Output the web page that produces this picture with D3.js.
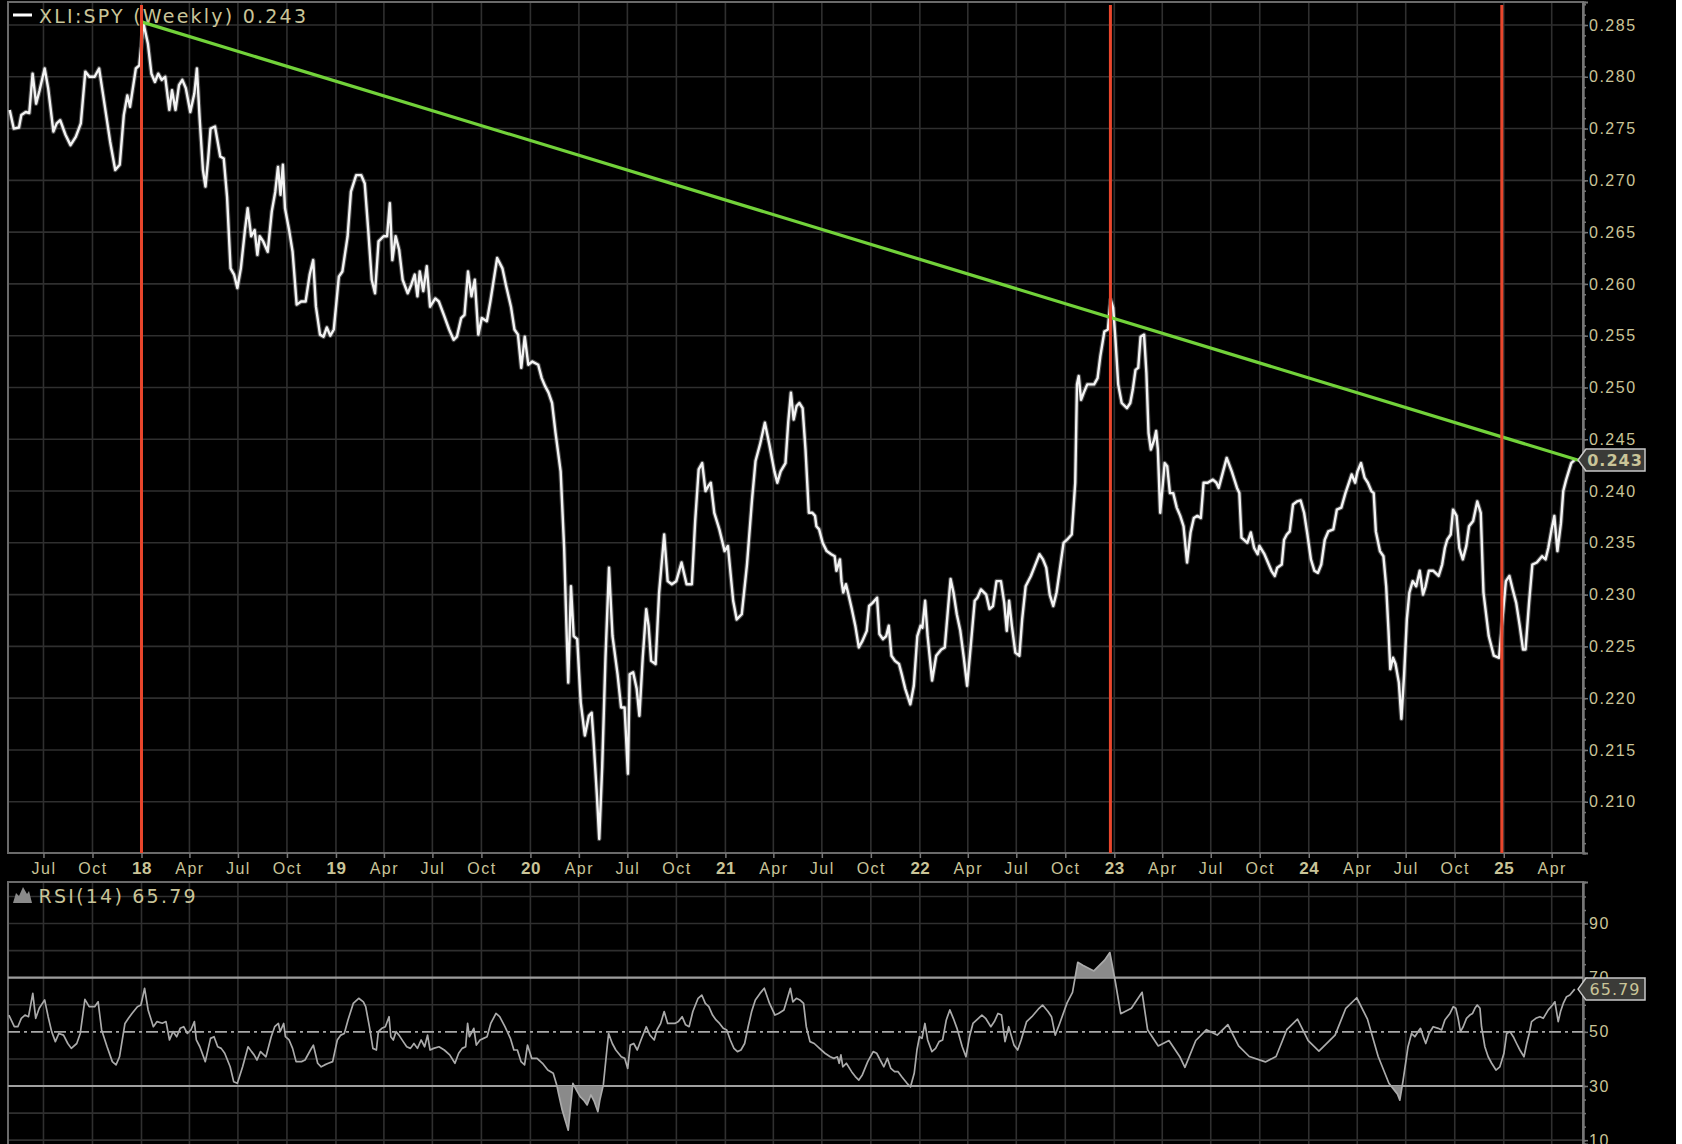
<!DOCTYPE html>
<html><head><meta charset="utf-8">
<script src="https://cdn.jsdelivr.net/npm/d3@7"></script>
<style>html,body{margin:0;padding:0;background:#000;overflow:hidden}</style>
</head><body><svg id="c" width="1682" height="1144"></svg>
<script>
// ---- data (time as decimal year) ----
const seriesName = "XLI:SPY (Weekly)";
const lastRatio = 0.243;
const lastRsi = 65.79;
const ratioSeries = [
[2017.322,0.2768],[2017.343,0.2750],[2017.370,0.2751],[2017.382,0.2763],[2017.405,0.2766],[2017.423,0.2765],[2017.440,0.2803],[2017.458,0.2774],[2017.476,0.2787],[2017.502,0.2808],[2017.520,0.2789],[2017.547,0.2747],[2017.564,0.2755],[2017.582,0.2758],[2017.609,0.2744],[2017.635,0.2734],[2017.662,0.2742],[2017.688,0.2755],[2017.711,0.2805],[2017.732,0.2800],[2017.759,0.2800],[2017.782,0.2808],[2017.803,0.2782],[2017.839,0.2737],[2017.865,0.2710],[2017.888,0.2715],[2017.909,0.2763],[2017.927,0.2782],[2017.941,0.2771],[2017.971,0.2808],[2017.989,0.2811],[2018.010,0.2852],[2018.033,0.2832],[2018.051,0.2803],[2018.069,0.2795],[2018.086,0.2803],[2018.104,0.2797],[2018.122,0.2800],[2018.143,0.2768],[2018.157,0.2787],[2018.175,0.2768],[2018.193,0.2792],[2018.210,0.2797],[2018.228,0.2789],[2018.251,0.2766],[2018.272,0.2784],[2018.285,0.2808],[2018.299,0.2760],[2018.316,0.2710],[2018.329,0.2694],[2018.343,0.2721],[2018.355,0.2750],[2018.378,0.2752],[2018.405,0.2723],[2018.423,0.2721],[2018.440,0.2684],[2018.458,0.2615],[2018.476,0.2609],[2018.493,0.2596],[2018.511,0.2615],[2018.532,0.2652],[2018.546,0.2673],[2018.564,0.2646],[2018.582,0.2652],[2018.596,0.2628],[2018.608,0.2646],[2018.626,0.2641],[2018.649,0.2631],[2018.670,0.2670],[2018.688,0.2689],[2018.702,0.2713],[2018.715,0.2686],[2018.727,0.2715],[2018.738,0.2673],[2018.759,0.2652],[2018.777,0.2631],[2018.798,0.2580],[2018.821,0.2583],[2018.844,0.2583],[2018.865,0.2609],[2018.883,0.2623],[2018.897,0.2578],[2018.918,0.2551],[2018.936,0.2549],[2018.953,0.2558],[2018.971,0.2550],[2018.989,0.2556],[2019.015,0.2607],[2019.033,0.2612],[2019.060,0.2646],[2019.077,0.2689],[2019.104,0.2705],[2019.130,0.2705],[2019.148,0.2697],[2019.166,0.2652],[2019.184,0.2604],[2019.201,0.2591],[2019.219,0.2641],[2019.245,0.2646],[2019.263,0.2646],[2019.277,0.2678],[2019.290,0.2623],[2019.307,0.2646],[2019.325,0.2633],[2019.343,0.2604],[2019.369,0.2591],[2019.387,0.2599],[2019.405,0.2609],[2019.419,0.2588],[2019.431,0.2612],[2019.449,0.2593],[2019.467,0.2617],[2019.484,0.2578],[2019.511,0.2586],[2019.529,0.2583],[2019.555,0.2570],[2019.582,0.2556],[2019.605,0.2546],[2019.622,0.2549],[2019.644,0.2567],[2019.661,0.2570],[2019.679,0.2612],[2019.697,0.2588],[2019.714,0.2604],[2019.732,0.2551],[2019.750,0.2567],[2019.776,0.2564],[2019.794,0.2583],[2019.829,0.2625],[2019.856,0.2615],[2019.874,0.2599],[2019.900,0.2578],[2019.918,0.2556],[2019.936,0.2551],[2019.953,0.2519],[2019.971,0.2549],[2019.989,0.2522],
[2020.010,0.2525],[2020.040,0.2522],[2020.058,0.2509],[2020.076,0.2501],[2020.093,0.2495],[2020.111,0.2485],[2020.129,0.2456],[2020.155,0.2419],[2020.173,0.2345],[2020.187,0.2255],[2020.194,0.2215],[2020.208,0.2308],[2020.222,0.2260],[2020.240,0.2257],[2020.258,0.2196],[2020.279,0.2164],[2020.300,0.2183],[2020.314,0.2186],[2020.323,0.2162],[2020.341,0.2106],[2020.353,0.2064],[2020.368,0.2133],[2020.385,0.2239],[2020.403,0.2326],[2020.421,0.2260],[2020.447,0.2223],[2020.465,0.2191],[2020.483,0.2191],[2020.500,0.2127],[2020.509,0.2223],[2020.527,0.2225],[2020.545,0.2209],[2020.559,0.2183],[2020.576,0.2239],[2020.594,0.2286],[2020.606,0.2270],[2020.619,0.2236],[2020.642,0.2233],[2020.660,0.2302],[2020.686,0.2358],[2020.704,0.2313],[2020.725,0.2310],[2020.748,0.2313],[2020.775,0.2331],[2020.801,0.2310],[2020.828,0.2310],[2020.845,0.2371],[2020.863,0.2421],[2020.881,0.2427],[2020.898,0.2400],[2020.913,0.2405],[2020.925,0.2408],[2020.943,0.2379],[2020.969,0.2363],[2020.996,0.2342],[2021.013,0.2347],[2021.040,0.2294],[2021.058,0.2276],[2021.084,0.2281],[2021.111,0.2329],[2021.137,0.2392],[2021.155,0.2429],[2021.178,0.2445],[2021.203,0.2466],[2021.226,0.2445],[2021.252,0.2419],[2021.267,0.2408],[2021.284,0.2419],[2021.309,0.2427],[2021.323,0.2466],[2021.337,0.2495],[2021.351,0.2469],[2021.366,0.2482],[2021.380,0.2485],[2021.397,0.2480],[2021.412,0.2440],[2021.429,0.2379],[2021.447,0.2379],[2021.461,0.2376],[2021.468,0.2366],[2021.482,0.2363],[2021.500,0.2350],[2021.521,0.2342],[2021.544,0.2339],[2021.562,0.2337],[2021.571,0.2323],[2021.589,0.2334],[2021.597,0.2313],[2021.606,0.2302],[2021.620,0.2310],[2021.633,0.2300],[2021.650,0.2286],[2021.668,0.2270],[2021.686,0.2249],[2021.704,0.2255],[2021.727,0.2265],[2021.739,0.2289],[2021.757,0.2292],[2021.780,0.2297],[2021.792,0.2262],[2021.810,0.2257],[2021.827,0.2260],[2021.840,0.2270],[2021.854,0.2241],[2021.872,0.2236],[2021.893,0.2233],[2021.907,0.2223],[2021.925,0.2209],[2021.951,0.2194],[2021.969,0.2212],[2021.987,0.2260],[2022.004,0.2270],[2022.013,0.2268],[2022.027,0.2294],[2022.040,0.2260],[2022.063,0.2217],[2022.084,0.2241],[2022.110,0.2247],[2022.128,0.2249],[2022.146,0.2289],[2022.158,0.2315],[2022.173,0.2302],[2022.190,0.2281],[2022.208,0.2265],[2022.226,0.2239],[2022.243,0.2212],[2022.261,0.2249],[2022.282,0.2294],[2022.296,0.2297],[2022.314,0.2305],[2022.341,0.2300],[2022.358,0.2286],[2022.376,0.2289],[2022.394,0.2313],[2022.417,0.2313],[2022.434,0.2292],[2022.447,0.2265],[2022.459,0.2294],[2022.473,0.2270],[2022.491,0.2244],[2022.512,0.2241],[2022.526,0.2276],[2022.544,0.2308],[2022.571,0.2318],[2022.588,0.2326],[2022.615,0.2339],[2022.633,0.2334],[2022.650,0.2326],[2022.668,0.2300],[2022.686,0.2289],[2022.703,0.2302],[2022.721,0.2326],[2022.739,0.2350],[2022.757,0.2353],
[2022.781,0.2358],[2022.799,0.2408],[2022.808,0.2503],[2022.817,0.2511],[2022.829,0.2488],[2022.843,0.2495],[2022.861,0.2503],[2022.896,0.2503],[2022.914,0.2509],[2022.928,0.2530],[2022.949,0.2554],[2022.967,0.2556],[2022.981,0.2585],[2022.994,0.2577],[2023.006,0.2546],[2023.020,0.2503],[2023.038,0.2485],[2023.065,0.2480],[2023.082,0.2485],[2023.095,0.2498],[2023.109,0.2517],[2023.123,0.2519],[2023.135,0.2549],[2023.153,0.2551],[2023.165,0.2514],[2023.176,0.2456],[2023.188,0.2440],[2023.206,0.2450],[2023.215,0.2458],[2023.224,0.2440],[2023.236,0.2379],[2023.250,0.2408],[2023.259,0.2427],[2023.272,0.2424],[2023.286,0.2398],[2023.303,0.2398],[2023.321,0.2384],[2023.339,0.2376],[2023.356,0.2366],[2023.374,0.2331],[2023.392,0.2360],[2023.409,0.2374],[2023.427,0.2376],[2023.445,0.2374],[2023.459,0.2408],[2023.480,0.2408],[2023.507,0.2411],[2023.525,0.2408],[2023.537,0.2403],[2023.551,0.2413],[2023.578,0.2432],[2023.604,0.2419],[2023.631,0.2403],[2023.643,0.2398],[2023.654,0.2355],[2023.666,0.2353],[2023.684,0.2350],[2023.702,0.2360],[2023.719,0.2345],[2023.737,0.2339],[2023.746,0.2347],[2023.772,0.2339],[2023.790,0.2331],[2023.808,0.2323],[2023.825,0.2318],[2023.838,0.2326],[2023.861,0.2329],[2023.873,0.2353],[2023.887,0.2358],[2023.902,0.2361],[2023.919,0.2387],[2023.940,0.2390],[2023.958,0.2391],[2023.976,0.2379],[2023.993,0.2358],[2024.011,0.2334],[2024.029,0.2323],[2024.047,0.2321],[2024.064,0.2329],[2024.082,0.2353],[2024.100,0.2361],[2024.126,0.2363],[2024.144,0.2382],[2024.167,0.2384],[2024.188,0.2398],[2024.206,0.2408],[2024.220,0.2416],[2024.238,0.2408],[2024.250,0.2419],[2024.268,0.2427],[2024.286,0.2413],[2024.303,0.2408],[2024.321,0.2400],[2024.333,0.2398],[2024.344,0.2361],[2024.365,0.2342],[2024.383,0.2337],[2024.397,0.2308],[2024.409,0.2265],[2024.418,0.2228],[2024.432,0.2239],[2024.445,0.2233],[2024.462,0.2215],[2024.475,0.2180],[2024.489,0.2223],[2024.503,0.2276],[2024.516,0.2302],[2024.533,0.2313],[2024.551,0.2308],[2024.569,0.2323],[2024.586,0.2300],[2024.599,0.2308],[2024.616,0.2323],[2024.639,0.2323],[2024.666,0.2318],[2024.684,0.2329],[2024.698,0.2345],[2024.710,0.2353],[2024.728,0.2358],[2024.740,0.2382],[2024.758,0.2376],[2024.772,0.2345],[2024.790,0.2334],[2024.808,0.2347],[2024.822,0.2366],[2024.843,0.2371],[2024.864,0.2390],[2024.882,0.2379],[2024.896,0.2302],[2024.923,0.2260],[2024.949,0.2241],[2024.976,0.2239],[2024.993,0.2276],[2025.011,0.2313],[2025.029,0.2318],[2025.046,0.2305],[2025.064,0.2292],[2025.082,0.2270],[2025.099,0.2247],[2025.112,0.2247],[2025.130,0.2292],[2025.147,0.2329],[2025.170,0.2331],[2025.197,0.2337],[2025.215,0.2334],[2025.229,0.2345],[2025.246,0.2363],[2025.260,0.2376],[2025.276,0.2342],[2025.294,0.2369],[2025.306,0.2400],[2025.321,0.2411],[2025.347,0.2427],[2025.365,0.2430]
];
const rsiSeries = [
[2017.318,56.2],[2017.346,51.9],[2017.364,51.9],[2017.382,55.0],[2017.401,56.2],[2017.419,55.6],[2017.441,64.2],[2017.456,55.0],[2017.474,58.7],[2017.502,61.8],[2017.520,55.6],[2017.538,50.1],[2017.557,46.4],[2017.575,49.4],[2017.599,48.8],[2017.621,45.7],[2017.639,43.9],[2017.667,45.7],[2017.685,49.4],[2017.709,62.0],[2017.731,59.3],[2017.759,59.3],[2017.777,61.1],[2017.795,50.7],[2017.823,44.5],[2017.850,39.0],[2017.869,37.8],[2017.887,40.8],[2017.915,53.1],[2017.933,55.0],[2017.951,56.8],[2017.979,59.3],[2017.997,59.9],[2018.016,66.1],[2018.034,58.1],[2018.061,51.9],[2018.080,53.8],[2018.107,53.2],[2018.126,53.8],[2018.144,47.0],[2018.162,50.1],[2018.181,48.2],[2018.199,51.3],[2018.217,51.9],[2018.236,49.4],[2018.254,50.7],[2018.272,53.8],[2018.282,47.0],[2018.300,44.5],[2018.328,39.0],[2018.355,47.6],[2018.373,48.2],[2018.392,44.5],[2018.410,43.9],[2018.428,42.1],[2018.456,37.1],[2018.474,31.6],[2018.493,31.0],[2018.520,37.1],[2018.548,44.5],[2018.566,42.7],[2018.579,41.5],[2018.594,39.6],[2018.612,42.7],[2018.640,40.8],[2018.667,48.2],[2018.685,51.9],[2018.704,53.1],[2018.713,50.1],[2018.731,53.1],[2018.740,48.2],[2018.759,47.0],[2018.777,43.9],[2018.795,39.0],[2018.823,39.0],[2018.841,39.6],[2018.869,43.3],[2018.884,45.1],[2018.906,38.4],[2018.924,37.1],[2018.942,37.8],[2018.961,38.4],[2018.983,39.0],[2019.007,47.0],[2019.025,48.8],[2019.043,49.4],[2019.062,54.4],[2019.089,60.5],[2019.117,62.4],[2019.141,61.1],[2019.153,59.3],[2019.172,51.9],[2019.190,43.9],[2019.208,43.3],[2019.218,50.1],[2019.236,51.3],[2019.254,51.9],[2019.273,55.6],[2019.282,48.2],[2019.295,47.0],[2019.309,50.1],[2019.324,48.8],[2019.346,46.4],[2019.364,44.5],[2019.383,43.9],[2019.401,45.7],[2019.419,43.9],[2019.438,47.0],[2019.456,44.5],[2019.471,48.8],[2019.484,43.3],[2019.502,43.9],[2019.530,44.5],[2019.557,43.3],[2019.585,41.5],[2019.612,38.4],[2019.631,42.1],[2019.649,43.9],[2019.667,44.5],[2019.677,53.1],[2019.686,48.2],[2019.695,49.4],[2019.709,51.3],[2019.722,45.1],[2019.741,47.0],[2019.759,47.6],[2019.777,48.2],[2019.796,53.1],[2019.823,56.8],[2019.842,55.6],[2019.869,51.9],[2019.897,47.6],[2019.915,43.3],[2019.933,43.3],[2019.952,39.0],[2019.970,37.8],[2019.985,45.1],[2020.007,40.2],[2020.034,40.2],[2020.062,38.4],[2020.089,35.9],[2020.117,34.7],[2020.135,30.4],
[2020.144,27.3],[2020.163,21.1],[2020.181,16.8],[2020.194,13.7],[2020.209,24.8],[2020.218,31.0],[2020.236,28.5],[2020.255,26.1],[2020.273,24.8],[2020.291,23.0],[2020.310,26.7],[2020.328,24.2],[2020.346,20.5],[2020.356,24.8],[2020.374,30.4],[2020.392,43.3],[2020.401,49.4],[2020.420,45.7],[2020.438,43.3],[2020.466,40.8],[2020.484,40.2],[2020.499,36.5],[2020.512,45.1],[2020.530,45.7],[2020.548,43.3],[2020.567,47.0],[2020.594,51.9],[2020.613,48.8],[2020.635,47.0],[2020.649,50.7],[2020.668,53.1],[2020.686,57.5],[2020.704,53.1],[2020.741,53.1],[2020.759,53.8],[2020.778,55.6],[2020.796,52.6],[2020.814,51.9],[2020.833,57.5],[2020.860,62.4],[2020.879,63.6],[2020.897,60.5],[2020.915,59.3],[2020.934,56.2],[2020.952,54.4],[2020.970,53.1],[2020.989,51.3],[2021.007,50.7],[2021.025,47.0],[2021.044,43.9],[2021.062,42.7],[2021.080,43.3],[2021.099,45.7],[2021.117,51.9],[2021.135,57.5],[2021.154,61.8],[2021.178,64.2],[2021.200,66.1],[2021.227,60.5],[2021.255,56.2],[2021.273,56.8],[2021.301,58.1],[2021.319,62.4],[2021.334,66.1],[2021.347,61.1],[2021.365,62.4],[2021.383,61.8],[2021.402,60.5],[2021.416,51.9],[2021.435,46.4],[2021.457,45.7],[2021.484,43.9],[2021.512,42.1],[2021.539,40.8],[2021.558,40.2],[2021.576,40.8],[2021.585,38.4],[2021.594,41.5],[2021.604,37.1],[2021.622,38.4],[2021.649,35.3],[2021.668,33.5],[2021.686,32.2],[2021.704,34.1],[2021.732,39.0],[2021.760,42.7],[2021.778,42.1],[2021.796,39.6],[2021.815,37.1],[2021.833,40.2],[2021.851,36.5],[2021.870,35.3],[2021.888,35.3],[2021.906,33.5],[2021.934,31.0],[2021.952,29.7],[2021.971,34.7],[2021.985,43.3],[2021.998,48.2],[2022.011,47.6],[2022.026,53.1],[2022.040,47.0],[2022.062,42.7],[2022.081,43.9],[2022.099,46.4],[2022.117,47.0],[2022.136,54.4],[2022.154,58.1],[2022.172,55.0],[2022.191,51.3],[2022.218,44.5],[2022.237,40.8],[2022.255,48.2],[2022.273,53.1],[2022.301,55.0],[2022.319,56.2],[2022.338,55.0],[2022.365,51.9],[2022.383,53.8],[2022.402,56.8],[2022.420,56.2],[2022.438,46.4],[2022.457,51.9],[2022.484,45.1],[2022.503,43.3],[2022.521,47.0],[2022.549,53.8],[2022.576,55.6],[2022.613,58.7],[2022.631,59.9],[2022.659,57.5],[2022.677,55.6],[2022.696,48.8],[2022.719,53.1],
[2022.757,60.7],[2022.785,64.6],[2022.812,75.7],[2022.840,74.5],[2022.895,72.5],[2022.950,76.5],[2022.977,79.3],[2023.005,68.6],[2023.033,56.7],[2023.088,58.7],[2023.143,64.6],[2023.171,50.8],[2023.226,44.8],[2023.281,46.8],[2023.336,40.9],[2023.363,36.9],[2023.419,46.8],[2023.474,50.8],[2023.529,48.8],[2023.584,52.7],[2023.639,44.8],[2023.694,40.9],[2023.777,38.9],[2023.832,40.9],[2023.887,50.8],[2023.942,54.7],[2023.997,46.8],[2024.052,42.9],[2024.135,48.8],[2024.190,58.7],[2024.246,62.6],[2024.301,54.7],[2024.356,40.9],[2024.411,31.0],[2024.455,27.0],
[2024.467,24.8],[2024.484,32.2],[2024.509,44.5],[2024.527,49.4],[2024.544,48.2],[2024.561,50.1],[2024.573,51.3],[2024.587,48.2],[2024.600,45.7],[2024.617,49.4],[2024.638,51.9],[2024.664,51.3],[2024.681,50.7],[2024.698,54.4],[2024.724,56.8],[2024.741,59.3],[2024.754,58.7],[2024.766,55.0],[2024.778,50.1],[2024.792,51.9],[2024.809,55.0],[2024.826,56.2],[2024.840,56.8],[2024.852,58.7],[2024.864,59.9],[2024.878,58.7],[2024.886,51.9],[2024.903,44.5],[2024.920,40.8],[2024.938,38.4],[2024.960,35.9],[2024.980,37.1],[2025.001,42.1],[2025.015,49.4],[2025.032,50.1],[2025.049,48.2],[2025.066,45.7],[2025.083,43.3],[2025.104,40.8],[2025.118,45.7],[2025.131,49.4],[2025.143,53.8],[2025.165,55.0],[2025.186,55.6],[2025.203,55.0],[2025.229,58.1],[2025.251,59.9],[2025.263,61.1],[2025.280,53.8],[2025.292,57.5],[2025.306,60.5],[2025.323,63.0],[2025.340,63.6],[2025.365,65.79]
];
const trendLine = [[2018.0,0.2853],[2025.397,0.2429]];
const markerDates = [2018.0, 2022.98, 2024.99];
const priceTicks = [0.210,0.215,0.220,0.225,0.230,0.235,0.240,0.245,0.250,0.255,0.260,0.265,0.270,0.275,0.280,0.285];
const rsiTicks = [10,30,50,70,90];
const rsiGridLevels = [10,20,30,40,50,60,70,80,90,100];
const rsiBands = {over:70, mid:50, under:30};

// ---- layout ----
const W=1682,H=1144, L=8, R=1583, T=2, B=853, RT=882, RB=1144;
const TXT='#c9c498', GRID='#2f2f2f', FRAME='#6a6a6a';
const toDate = v => { const yr=Math.floor(v); const s=Date.UTC(yr,0,1), e=Date.UTC(yr+1,0,1); return new Date(s+(v-yr)*(e-s)); };

const svg=d3.select('#c').attr('font-family','DejaVu Sans, Verdana, sans-serif');
svg.append('rect').attr('width',W).attr('height',H).attr('fill','#000');
svg.append('rect').attr('x',1676).attr('y',0).attr('width',6).attr('height',H).attr('fill','#fff');

const x=d3.scaleTime().domain([toDate(2017.3135),toDate(2025.4075)]).range([L,R]);
const y=d3.scaleLinear().domain([0.20505,0.28722]).range([B,T]);
const yR=d3.scaleLinear().domain([8.58,105.35]).range([RB,RT]);
const quarters=d3.utcMonth.every(3).range(x.domain()[0],x.domain()[1]);

// grids
const g=svg.append('g').attr('stroke',GRID).attr('stroke-width',1.6);
g.selectAll('.vg').data(quarters).join('line').attr('x1',d=>x(d)).attr('x2',d=>x(d)).attr('y1',T).attr('y2',B);
g.selectAll('.vg2').data(quarters).join('line').attr('x1',d=>x(d)).attr('x2',d=>x(d)).attr('y1',RT).attr('y2',RB);
g.selectAll('.hg').data(priceTicks).join('line').attr('x1',L).attr('x2',R).attr('y1',d=>y(d)).attr('y2',d=>y(d));
g.selectAll('.hg2').data(rsiGridLevels.filter(v=>v!==30&&v!==50&&v!==70)).join('line').attr('x1',L).attr('x2',R).attr('y1',d=>yR(d)).attr('y2',d=>yR(d));

// frames
svg.append('rect').attr('x',L).attr('y',T).attr('width',R-L).attr('height',B-T).attr('fill','none').attr('stroke',FRAME).attr('stroke-width',2);
svg.append('rect').attr('x',L).attr('y',RT).attr('width',R-L).attr('height',RB-RT+10).attr('fill','none').attr('stroke',FRAME).attr('stroke-width',2);

// right price axis
const styleAxis = sel => { sel.select('.domain').attr('stroke','#777').attr('stroke-width',2); sel.selectAll('.tick line').attr('stroke','#777').attr('stroke-width',1.5); sel.selectAll('text').attr('fill',TXT).attr('font-size',16).attr('letter-spacing','1.5px'); };
const minorP=d3.range(0.206,0.2871,0.001);
svg.append('g').attr('transform',`translate(${R},0)`).call(d3.axisRight(y).tickValues(minorP).tickSize(3).tickFormat('')).call(styleAxis);
svg.append('g').attr('transform',`translate(${R},0)`).call(d3.axisRight(y).tickValues(priceTicks).tickSize(5).tickPadding(1).tickFormat(d3.format('.3f'))).call(styleAxis);

// x axis
const xa=svg.append('g').attr('transform',`translate(0,${B})`).call(d3.axisBottom(x).tickValues(quarters).tickSize(5).tickSizeOuter(0).tickFormat(d=>d.getUTCMonth()===0?d3.utcFormat('%y')(d):d3.utcFormat('%b')(d))).call(styleAxis);
xa.select('.domain').remove();
xa.selectAll('text').attr('y',21).attr('dy',0).attr('text-anchor','middle').each(function(d){ if(d.getUTCMonth()===0) d3.select(this).attr('font-weight','bold').attr('font-size',17).attr('letter-spacing','0.5px'); });

// RSI right axis
const minorR=d3.range(10,101,5);
svg.append('g').attr('transform',`translate(${R},0)`).call(d3.axisRight(yR).tickValues(minorR).tickSize(3).tickFormat('')).call(styleAxis);
svg.append('g').attr('transform',`translate(${R},0)`).call(d3.axisRight(yR).tickValues(rsiTicks).tickSize(5).tickPadding(1)).call(styleAxis);

// RSI bands
svg.append('line').attr('x1',L).attr('x2',R).attr('y1',yR(rsiBands.over)).attr('y2',yR(rsiBands.over)).attr('stroke','#a0a0a0').attr('stroke-width',2.2);
svg.append('line').attr('x1',L).attr('x2',R).attr('y1',yR(rsiBands.under)).attr('y2',yR(rsiBands.under)).attr('stroke','#a0a0a0').attr('stroke-width',2.2);
svg.append('line').attr('x1',L).attr('x2',R).attr('y1',yR(rsiBands.mid)).attr('y2',yR(rsiBands.mid)).attr('stroke','#a8a8a8').attr('stroke-width',1.6).attr('stroke-dasharray','12,4,3,4');

// RSI fills
const defs=svg.append('defs');
defs.append('clipPath').attr('id','below').append('rect').attr('x',L).attr('y',yR(rsiBands.under)).attr('width',R-L).attr('height',RB-yR(rsiBands.under));
defs.append('clipPath').attr('id','above').append('rect').attr('x',L).attr('y',RT).attr('width',R-L).attr('height',yR(rsiBands.over)-RT);
svg.append('path').datum(rsiSeries).attr('clip-path','url(#below)').attr('fill','#8a8a8a')
  .attr('d',d3.area().x(d=>x(toDate(d[0]))).y0(yR(rsiBands.under)).y1(d=>yR(d[1])));
svg.append('path').datum(rsiSeries).attr('clip-path','url(#above)').attr('fill','#8a8a8a')
  .attr('d',d3.area().x(d=>x(toDate(d[0]))).y0(yR(rsiBands.over)).y1(d=>yR(d[1])));
svg.append('path').datum(rsiSeries).attr('fill','none').attr('stroke','#aaaaaa').attr('stroke-width',1.7).attr('stroke-linejoin','round')
  .attr('d',d3.line().x(d=>x(toDate(d[0]))).y(d=>yR(d[1])));

// price line
const pline=d3.line().x(d=>x(toDate(d[0]))).y(d=>y(d[1]));
svg.append('path').datum(ratioSeries).attr('fill','none').attr('stroke','#9a9a9a').attr('stroke-opacity',0.45).attr('stroke-width',4.6).attr('stroke-linejoin','round').attr('d',pline);
svg.append('path').datum(ratioSeries).attr('fill','none').attr('stroke','#f4f4f4').attr('stroke-width',2.4).attr('stroke-linejoin','round').attr('d',pline);

// legends
svg.append('rect').attr('x',13).attr('y',13.5).attr('width',19).attr('height',3).attr('fill','#fff');
svg.append('text').attr('x',39).attr('y',23).attr('fill',TXT).attr('font-size',19).attr('textLength',267).attr('lengthAdjust','spacing').text(`${seriesName} ${lastRatio.toFixed(3)}`);
svg.append('path').attr('d','M13,903 L16,893 L19,896 L23,887 L27,894 L29,891 L32,903 Z').attr('fill','#8a8a8a');
svg.append('text').attr('x',38.6).attr('y',903).attr('fill',TXT).attr('font-size',19).attr('textLength',157).attr('lengthAdjust','spacing').text(`RSI(14) ${lastRsi.toFixed(2)}`);

// trend line & markers
svg.append('line').attr('x1',x(toDate(trendLine[0][0]))).attr('y1',y(trendLine[0][1])).attr('x2',x(toDate(trendLine[1][0]))).attr('y2',y(trendLine[1][1]))
  .attr('stroke','#72d23a').attr('stroke-width',3.2).attr('stroke-linecap','round');
svg.selectAll('.mk').data(markerDates).join('line').attr('x1',d=>x(toDate(d))).attr('x2',d=>x(toDate(d))).attr('y1',5).attr('y2',B)
  .attr('stroke','#e9462c').attr('stroke-width',3);

// value tags
function tag(cy, label, bold){
  const gg=svg.append('g');
  gg.append('path').attr('d',`M1578,${cy} L1586,${cy-11} L1645,${cy-11} L1645,${cy+11} L1586,${cy+11} Z`).attr('fill','#3b3b38').attr('stroke','#c8c8c8').attr('stroke-width',1.5);
  gg.append('text').attr('x',1615).attr('y',cy+6).attr('text-anchor','middle').attr('fill',TXT).attr('font-size',16).attr('font-weight',bold?'bold':'normal').attr('letter-spacing','1px').text(label);
}
tag(y(lastRatio), lastRatio.toFixed(3), true);
tag(yR(lastRsi), lastRsi.toFixed(2), false);
</script></body></html>
